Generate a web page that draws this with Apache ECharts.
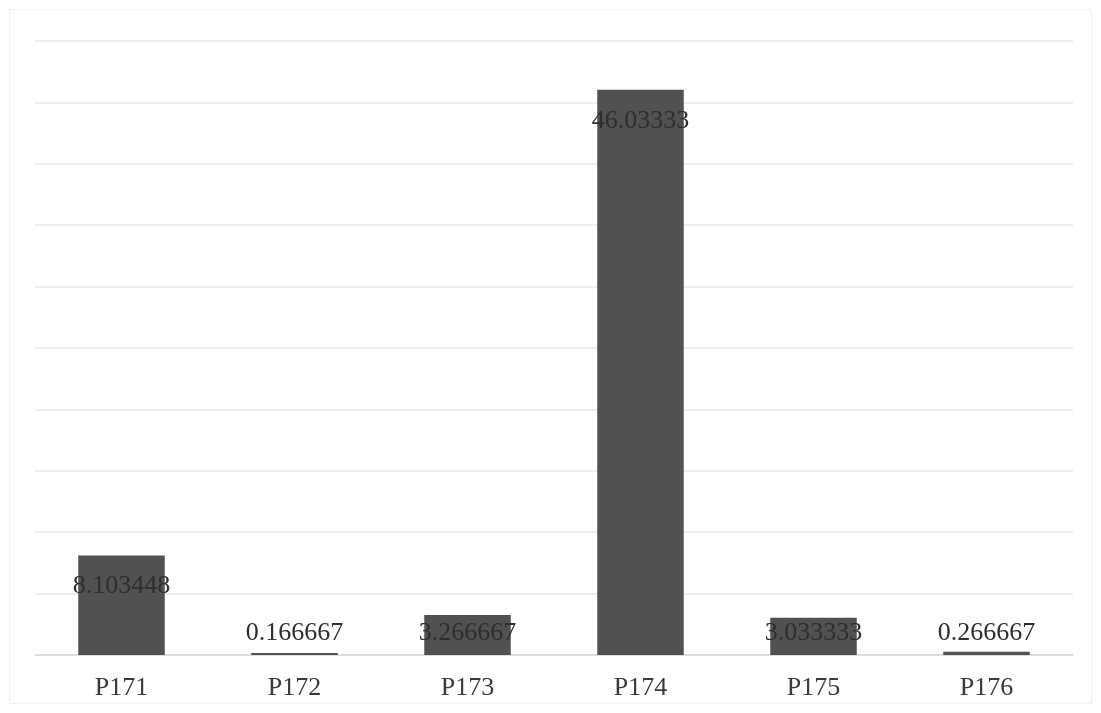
<!DOCTYPE html>
<html>
<head>
<meta charset="utf-8">
<style>
  html, body { margin: 0; padding: 0; background: #ffffff; }
  #chart { width: 1101px; height: 713px; }
</style>
<script src="https://cdn.jsdelivr.net/npm/echarts@6/dist/echarts.min.js"></script>
</head>
<body>
<div id="chart"></div>
<script>
// Sample identifiers along the x axis
const categories = ['P171', 'P172', 'P173', 'P174', 'P175', 'P176'];
// Measured values per sample
const values = [8.103448, 0.166667, 3.266667, 46.03333, 3.033333, 0.266667];
// Value labels as printed on the bars
const valueLabels = ['8.103448', '0.166667', '3.266667', '46.03333', '3.033333', '0.266667'];

const chart = echarts.init(document.getElementById('chart'));

// Short bars carry their label resting just above the baseline; taller ones inside the top
const seriesData = values.map((v, i) => ({
  value: v,
  label: {
    position: v < 4 ? 'insideBottom' : 'insideTop',
    distance: v < 4 ? 9 : 18,
    formatter: valueLabels[i]
  }
}));

chart.setOption({
  backgroundColor: '#ffffff',
  animation: false,
  graphic: [{
    type: 'rect',
    shape: { x: 9.5, y: 9.5, width: 1082, height: 694 },
    style: { fill: 'none', stroke: '#f0f0f0', lineWidth: 1 }
  }],
  grid: { left: 35, right: 28, top: 41, bottom: 58 },
  xAxis: {
    type: 'category',
    data: categories,
    axisLine: { show: true, lineStyle: { color: '#d6d6d6', width: 1.5 } },
    axisTick: { show: false },
    axisLabel: {
      margin: 20,
      color: '#3a3a3a',
      fontFamily: 'Liberation Serif',
      fontSize: 26
    }
  },
  yAxis: {
    type: 'value',
    min: 0,
    max: 50,
    interval: 5,
    axisLabel: { show: false },
    axisLine: { show: false },
    axisTick: { show: false },
    splitLine: { lineStyle: { color: '#e8e8e8', width: 1.5 } }
  },
  series: [{
    type: 'bar',
    data: seriesData,
    barWidth: '50%',
    itemStyle: { color: '#515151' },
    label: {
      show: true,
      color: '#2e2e2e',
      fontFamily: 'Liberation Serif',
      fontSize: 26
    }
  }]
});
</script>
</body>
</html>
